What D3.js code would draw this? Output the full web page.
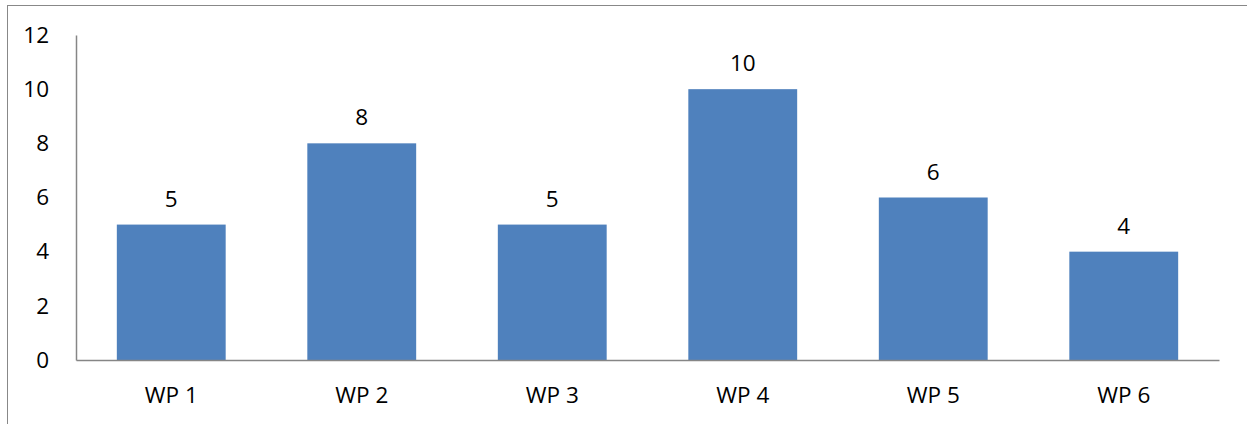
<!DOCTYPE html>
<html><head><meta charset="utf-8">
<script src="https://cdn.jsdelivr.net/npm/d3@7"></script>
<style>html,body{margin:0;padding:0;background:#fff;}svg{display:block;}</style>
</head><body>
<svg id="c" width="1247" height="424"></svg>
<script>
const categories = ["WP 1","WP 2","WP 3","WP 4","WP 5","WP 6"];
const values = [5,8,5,10,6,4];
const yTicks = [0,2,4,6,8,10,12];

const svg = d3.select("#c");
const W = 1247, H = 424;
const m = {left:76, right:28, top:35, bottom:64};
const font = "'Open Sans', sans-serif";
const fs = 22.5;

svg.append("rect").attr("x",7.5).attr("y",5.5).attr("width",1248).attr("height",430)
  .attr("fill","none").attr("stroke","#888").attr("stroke-width",1);

const x = d3.scaleBand().domain(categories).range([m.left, W-m.right]).paddingInner(0.4286).paddingOuter(0.2143);
const y = d3.scaleLinear().domain([0,12]).range([H-m.bottom, m.top]);

const yAxis = svg.append("g").attr("transform",`translate(${m.left},0)`)
  .call(d3.axisLeft(y).tickValues(yTicks).tickSize(0).tickPadding(27));
yAxis.select(".domain").attr("stroke","#868686").attr("stroke-width",1.5);
yAxis.selectAll("text").attr("font-family",font).attr("font-size",fs).attr("fill","#000");

svg.selectAll("rect.bar").data(values).join("rect").attr("class","bar")
  .attr("x",(d,i)=>x(categories[i])).attr("width",x.bandwidth())
  .attr("y",d=>y(d)).attr("height",d=>y(0)-y(d)).attr("fill","#4F81BD");

const xAxis = svg.append("g").attr("transform",`translate(0,${y(0)})`)
  .call(d3.axisBottom(x).tickSize(0).tickPadding(27).tickSizeOuter(0));
xAxis.select(".domain").attr("stroke","#868686").attr("stroke-width",1.5);
xAxis.selectAll("text").attr("font-family",font).attr("font-size",fs).attr("fill","#000");

svg.selectAll("text.lbl").data(values).join("text").attr("class","lbl")
  .attr("x",(d,i)=>x(categories[i])+x.bandwidth()/2).attr("y",d=>y(d)-18)
  .attr("text-anchor","middle").attr("font-family",font).attr("font-size",fs).attr("fill","#000")
  .text(d=>d);
</script>
</body></html>
